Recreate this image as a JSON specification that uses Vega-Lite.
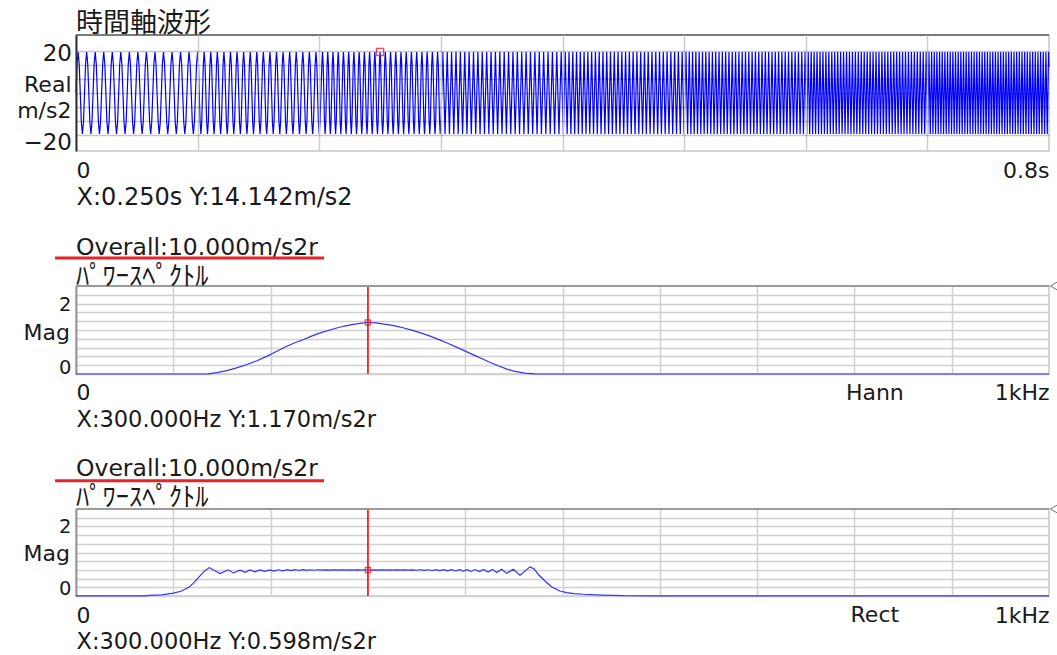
{
"$schema": "https://vega.github.io/schema/vega-lite/v6.json",
"background": "#ffffff",
"padding": {"left": 15, "top": 9, "right": 0, "bottom": 0},
"bounds": "flush",
"spacing": 135,
"config": {
 "view": {"stroke": "#c8c8c8", "strokeWidth": 1.5},
 "axis": {"ticks": false, "tickSize": 0, "tickCount": 100, "domain": false, "labelFont": "DejaVu Sans", "titleFont": "DejaVu Sans", "labelColor": "#1a1a1a", "titleColor": "#1a1a1a", "titleFontWeight": "normal", "labelFontSize": 22, "titleFontSize": 22, "gridColor": "#d0d0d0", "gridWidth": 1.5, "labelOverlap": false, "labelBound": false}
},
"datasets": {
"wave": [{"t":0,"v":0},
{"t":0.87,"v":10},{"t":1.75,"v":14.14},{"t":2.63,"v":10},{"t":4.38,"v":-10},{"t":5.26,"v":-14.14},{"t":6.14,"v":-10},{"t":7.89,"v":10},{"t":8.77,"v":14.14},{"t":9.65,"v":10},{"t":11.4,"v":-10},{"t":12.28,"v":-14.14},{"t":13.16,"v":-10},{"t":14.91,"v":10},{"t":15.79,"v":14.14},{"t":16.67,"v":10},{"t":18.42,"v":-10},{"t":19.3,"v":-14.14},{"t":20.18,"v":-10},{"t":21.93,"v":10},{"t":22.81,"v":14.14},{"t":23.69,"v":10},{"t":25.44,"v":-10},{"t":26.32,"v":-14.14},{"t":27.2,"v":-10},{"t":28.94,"v":10},{"t":29.82,"v":14.14},{"t":30.7,"v":10},{"t":32.45,"v":-10},{"t":33.33,"v":-14.14},{"t":34.21,"v":-10},{"t":35.96,"v":10},{"t":36.84,"v":14.14},{"t":37.72,"v":10},{"t":39.47,"v":-10},{"t":40.35,"v":-14.14},{"t":41.23,"v":-10},{"t":42.98,"v":10},{"t":43.86,"v":14.14},{"t":44.74,"v":10},{"t":46.49,"v":-10},{"t":47.37,"v":-14.14},{"t":48.25,"v":-10},{"t":50,"v":10},{"t":50.88,"v":14.14},{"t":51.76,"v":10},{"t":53.51,"v":-10},{"t":54.39,"v":-14.14},{"t":55.27,"v":-10},{"t":57.01,"v":10},{"t":57.89,"v":14.14},{"t":58.77,"v":10},{"t":60.52,"v":-10},{"t":61.4,"v":-14.14},{"t":62.28,"v":-10},{"t":64.03,"v":10},{"t":64.91,"v":14.14},{"t":65.79,"v":10},{"t":67.54,"v":-10},{"t":68.42,"v":-14.14},{"t":69.3,"v":-10},{"t":71.05,"v":10},{"t":71.93,"v":14.14},{"t":72.81,"v":10},{"t":74.56,"v":-10},{"t":75.44,"v":-14.14},{"t":76.32,"v":-10},{"t":78.07,"v":10},{"t":78.95,"v":14.14},{"t":79.83,"v":10},{"t":81.58,"v":-10},{"t":82.46,"v":-14.14},{"t":83.34,"v":-10},{"t":85.08,"v":10},{"t":85.96,"v":14.14},{"t":86.84,"v":10},{"t":88.59,"v":-10},{"t":89.47,"v":-14.14},{"t":90.35,"v":-10},{"t":92.1,"v":10},{"t":92.98,"v":14.14},{"t":93.86,"v":10},{"t":95.61,"v":-10},{"t":96.49,"v":-14.14},{"t":97.37,"v":-10},{"t":99.12,"v":10},{"t":100,"v":14.14},{"t":100.68,"v":10},
{"t":102.02,"v":-10},{"t":102.7,"v":-14.14},{"t":103.38,"v":-10},{"t":104.72,"v":10},{"t":105.4,"v":14.14},{"t":106.08,"v":10},{"t":107.43,"v":-10},{"t":108.11,"v":-14.14},{"t":108.79,"v":-10},{"t":110.13,"v":10},{"t":110.81,"v":14.14},{"t":111.49,"v":10},{"t":112.83,"v":-10},{"t":113.51,"v":-14.14},{"t":114.19,"v":-10},{"t":115.53,"v":10},{"t":116.21,"v":14.14},{"t":116.89,"v":10},{"t":118.24,"v":-10},{"t":118.92,"v":-14.14},{"t":119.6,"v":-10},{"t":120.94,"v":10},{"t":121.62,"v":14.14},{"t":122.3,"v":10},{"t":123.64,"v":-10},{"t":124.32,"v":-14.14},{"t":125,"v":-10},{"t":126.34,"v":10},{"t":127.02,"v":14.14},{"t":127.7,"v":10},{"t":129.05,"v":-10},{"t":129.73,"v":-14.14},{"t":130.41,"v":-10},{"t":131.75,"v":10},{"t":132.43,"v":14.14},{"t":133.11,"v":10},{"t":134.45,"v":-10},{"t":135.13,"v":-14.14},{"t":135.81,"v":-10},{"t":137.15,"v":10},{"t":137.83,"v":14.14},{"t":138.51,"v":10},{"t":139.86,"v":-10},{"t":140.54,"v":-14.14},{"t":141.22,"v":-10},{"t":142.56,"v":10},{"t":143.24,"v":14.14},{"t":143.92,"v":10},{"t":145.26,"v":-10},{"t":145.94,"v":-14.14},{"t":146.62,"v":-10},{"t":147.96,"v":10},{"t":148.64,"v":14.14},{"t":149.32,"v":10},{"t":150.67,"v":-10},{"t":151.35,"v":-14.14},{"t":152.03,"v":-10},{"t":153.37,"v":10},{"t":154.05,"v":14.14},{"t":154.73,"v":10},{"t":156.07,"v":-10},{"t":156.75,"v":-14.14},{"t":157.43,"v":-10},{"t":158.77,"v":10},{"t":159.45,"v":14.14},{"t":160.13,"v":10},{"t":161.48,"v":-10},{"t":162.16,"v":-14.14},{"t":162.84,"v":-10},{"t":164.18,"v":10},{"t":164.86,"v":14.14},{"t":165.54,"v":10},{"t":166.88,"v":-10},{"t":167.56,"v":-14.14},{"t":168.24,"v":-10},{"t":169.58,"v":10},{"t":170.26,"v":14.14},{"t":170.94,"v":10},{"t":172.28,"v":-10},{"t":172.96,"v":-14.14},{"t":173.64,"v":-10},{"t":174.99,"v":10},{"t":175.67,"v":14.14},{"t":176.35,"v":10},{"t":177.69,"v":-10},{"t":178.37,"v":-14.14},{"t":179.05,"v":-10},{"t":180.39,"v":10},{"t":181.07,"v":14.14},{"t":181.75,"v":10},{"t":183.09,"v":-10},{"t":183.77,"v":-14.14},{"t":184.45,"v":-10},{"t":185.8,"v":10},{"t":186.48,"v":14.14},{"t":187.16,"v":10},{"t":188.5,"v":-10},{"t":189.18,"v":-14.14},{"t":189.86,"v":-10},{"t":191.2,"v":10},{"t":191.88,"v":14.14},{"t":192.56,"v":10},{"t":193.9,"v":-10},{"t":194.58,"v":-14.14},{"t":195.26,"v":-10},{"t":196.61,"v":10},{"t":197.29,"v":14.14},{"t":197.97,"v":10},{"t":199.31,"v":-10},{"t":199.99,"v":-14.14},{"t":200.67,"v":-10},
{"t":202.15,"v":10},{"t":202.69,"v":14.14},{"t":203.23,"v":10},{"t":204.3,"v":-10},{"t":204.84,"v":-14.14},{"t":205.38,"v":-10},{"t":206.45,"v":10},{"t":206.99,"v":14.14},{"t":207.53,"v":10},{"t":208.6,"v":-10},{"t":209.14,"v":-14.14},{"t":209.68,"v":-10},{"t":210.75,"v":10},{"t":211.29,"v":14.14},{"t":211.83,"v":10},{"t":212.9,"v":-10},{"t":213.44,"v":-14.14},{"t":213.98,"v":-10},{"t":215.05,"v":10},{"t":215.59,"v":14.14},{"t":216.13,"v":10},{"t":217.21,"v":-10},{"t":217.75,"v":-14.14},{"t":218.29,"v":-10},{"t":219.36,"v":10},{"t":219.9,"v":14.14},{"t":220.44,"v":10},{"t":221.51,"v":-10},{"t":222.05,"v":-14.14},{"t":222.59,"v":-10},{"t":223.66,"v":10},{"t":224.2,"v":14.14},{"t":224.74,"v":10},{"t":225.81,"v":-10},{"t":226.35,"v":-14.14},{"t":226.89,"v":-10},{"t":227.96,"v":10},{"t":228.5,"v":14.14},{"t":229.04,"v":10},{"t":230.11,"v":-10},{"t":230.65,"v":-14.14},{"t":231.19,"v":-10},{"t":232.26,"v":10},{"t":232.8,"v":14.14},{"t":233.34,"v":10},{"t":234.41,"v":-10},{"t":234.95,"v":-14.14},{"t":235.49,"v":-10},{"t":236.56,"v":10},{"t":237.1,"v":14.14},{"t":237.64,"v":10},{"t":238.71,"v":-10},{"t":239.25,"v":-14.14},{"t":239.79,"v":-10},{"t":240.86,"v":10},{"t":241.4,"v":14.14},{"t":241.94,"v":10},{"t":243.01,"v":-10},{"t":243.55,"v":-14.14},{"t":244.09,"v":-10},{"t":245.16,"v":10},{"t":245.7,"v":14.14},{"t":246.24,"v":10},{"t":247.31,"v":-10},{"t":247.85,"v":-14.14},{"t":248.39,"v":-10},{"t":249.46,"v":10},{"t":250,"v":14.14},{"t":250.54,"v":10},{"t":251.61,"v":-10},{"t":252.15,"v":-14.14},{"t":252.69,"v":-10},{"t":253.77,"v":10},{"t":254.31,"v":14.14},{"t":254.85,"v":10},{"t":255.92,"v":-10},{"t":256.46,"v":-14.14},{"t":257,"v":-10},{"t":258.07,"v":10},{"t":258.61,"v":14.14},{"t":259.15,"v":10},{"t":260.22,"v":-10},{"t":260.76,"v":-14.14},{"t":261.3,"v":-10},{"t":262.37,"v":10},{"t":262.91,"v":14.14},{"t":263.45,"v":10},{"t":264.52,"v":-10},{"t":265.06,"v":-14.14},{"t":265.6,"v":-10},{"t":266.67,"v":10},{"t":267.21,"v":14.14},{"t":267.75,"v":10},{"t":268.82,"v":-10},{"t":269.36,"v":-14.14},{"t":269.9,"v":-10},{"t":270.97,"v":10},{"t":271.51,"v":14.14},{"t":272.05,"v":10},{"t":273.12,"v":-10},{"t":273.66,"v":-14.14},{"t":274.2,"v":-10},{"t":275.27,"v":10},{"t":275.81,"v":14.14},{"t":276.35,"v":10},{"t":277.42,"v":-10},{"t":277.96,"v":-14.14},{"t":278.5,"v":-10},{"t":279.57,"v":10},{"t":280.11,"v":14.14},{"t":280.65,"v":10},{"t":281.72,"v":-10},{"t":282.26,"v":-14.14},{"t":282.8,"v":-10},{"t":283.87,"v":10},{"t":284.41,"v":14.14},{"t":284.95,"v":10},{"t":286.02,"v":-10},{"t":286.56,"v":-14.14},{"t":287.1,"v":-10},{"t":288.17,"v":10},{"t":288.71,"v":14.14},{"t":289.25,"v":10},{"t":290.32,"v":-10},{"t":290.86,"v":-14.14},{"t":291.4,"v":-10},{"t":292.47,"v":10},{"t":293.01,"v":14.14},{"t":293.55,"v":10},{"t":294.63,"v":-10},{"t":295.17,"v":-14.14},{"t":295.71,"v":-10},{"t":296.78,"v":10},{"t":297.32,"v":14.14},{"t":297.86,"v":10},{"t":298.93,"v":-10},{"t":299.47,"v":-14.14},{"t":300.01,"v":-10},
{"t":301.61,"v":14.14},{"t":303.41,"v":-14.14},{"t":305.21,"v":14.14},{"t":307.02,"v":-14.14},{"t":308.82,"v":14.14},{"t":310.62,"v":-14.14},{"t":312.42,"v":14.14},{"t":314.22,"v":-14.14},{"t":316.02,"v":14.14},{"t":317.83,"v":-14.14},{"t":319.63,"v":14.14},{"t":321.43,"v":-14.14},{"t":323.23,"v":14.14},{"t":325.03,"v":-14.14},{"t":326.84,"v":14.14},{"t":328.64,"v":-14.14},{"t":330.44,"v":14.14},{"t":332.24,"v":-14.14},{"t":334.04,"v":14.14},{"t":335.84,"v":-14.14},{"t":337.65,"v":14.14},{"t":339.45,"v":-14.14},{"t":341.25,"v":14.14},{"t":343.05,"v":-14.14},{"t":344.85,"v":14.14},{"t":346.66,"v":-14.14},{"t":348.46,"v":14.14},{"t":350.26,"v":-14.14},{"t":352.06,"v":14.14},{"t":353.86,"v":-14.14},{"t":355.66,"v":14.14},{"t":357.47,"v":-14.14},{"t":359.27,"v":14.14},{"t":361.07,"v":-14.14},{"t":362.87,"v":14.14},{"t":364.67,"v":-14.14},{"t":366.47,"v":14.14},{"t":368.28,"v":-14.14},{"t":370.08,"v":14.14},{"t":371.88,"v":-14.14},{"t":373.68,"v":14.14},{"t":375.48,"v":-14.14},{"t":377.29,"v":14.14},{"t":379.09,"v":-14.14},{"t":380.89,"v":14.14},{"t":382.69,"v":-14.14},{"t":384.49,"v":14.14},{"t":386.29,"v":-14.14},{"t":388.1,"v":14.14},{"t":389.9,"v":-14.14},{"t":391.7,"v":14.14},{"t":393.5,"v":-14.14},{"t":395.3,"v":14.14},{"t":397.11,"v":-14.14},{"t":398.91,"v":14.14},
{"t":400.71,"v":-14.14},{"t":402.26,"v":14.14},{"t":403.81,"v":-14.14},{"t":405.36,"v":14.14},{"t":406.91,"v":-14.14},{"t":408.46,"v":14.14},{"t":410.01,"v":-14.14},{"t":411.56,"v":14.14},{"t":413.11,"v":-14.14},{"t":414.66,"v":14.14},{"t":416.21,"v":-14.14},{"t":417.76,"v":14.14},{"t":419.31,"v":-14.14},{"t":420.87,"v":14.14},{"t":422.42,"v":-14.14},{"t":423.97,"v":14.14},{"t":425.52,"v":-14.14},{"t":427.07,"v":14.14},{"t":428.62,"v":-14.14},{"t":430.17,"v":14.14},{"t":431.72,"v":-14.14},{"t":433.27,"v":14.14},{"t":434.82,"v":-14.14},{"t":436.37,"v":14.14},{"t":437.92,"v":-14.14},{"t":439.47,"v":14.14},{"t":441.02,"v":-14.14},{"t":442.57,"v":14.14},{"t":444.12,"v":-14.14},{"t":445.67,"v":14.14},{"t":447.22,"v":-14.14},{"t":448.77,"v":14.14},{"t":450.32,"v":-14.14},{"t":451.87,"v":14.14},{"t":453.42,"v":-14.14},{"t":454.97,"v":14.14},{"t":456.52,"v":-14.14},{"t":458.07,"v":14.14},{"t":459.63,"v":-14.14},{"t":461.18,"v":14.14},{"t":462.73,"v":-14.14},{"t":464.28,"v":14.14},{"t":465.83,"v":-14.14},{"t":467.38,"v":14.14},{"t":468.93,"v":-14.14},{"t":470.48,"v":14.14},{"t":472.03,"v":-14.14},{"t":473.58,"v":14.14},{"t":475.13,"v":-14.14},{"t":476.68,"v":14.14},{"t":478.23,"v":-14.14},{"t":479.78,"v":14.14},{"t":481.33,"v":-14.14},{"t":482.88,"v":14.14},{"t":484.43,"v":-14.14},{"t":485.98,"v":14.14},{"t":487.53,"v":-14.14},{"t":489.08,"v":14.14},{"t":490.63,"v":-14.14},{"t":492.18,"v":14.14},{"t":493.73,"v":-14.14},{"t":495.28,"v":14.14},{"t":496.84,"v":-14.14},{"t":498.39,"v":14.14},{"t":499.94,"v":-14.14},
{"t":501.49,"v":14.14},{"t":502.85,"v":-14.14},{"t":504.21,"v":14.14},{"t":505.57,"v":-14.14},{"t":506.93,"v":14.14},{"t":508.29,"v":-14.14},{"t":509.65,"v":14.14},{"t":511.01,"v":-14.14},{"t":512.37,"v":14.14},{"t":513.73,"v":-14.14},{"t":515.1,"v":14.14},{"t":516.46,"v":-14.14},{"t":517.82,"v":14.14},{"t":519.18,"v":-14.14},{"t":520.54,"v":14.14},{"t":521.9,"v":-14.14},{"t":523.26,"v":14.14},{"t":524.62,"v":-14.14},{"t":525.98,"v":14.14},{"t":527.34,"v":-14.14},{"t":528.7,"v":14.14},{"t":530.06,"v":-14.14},{"t":531.42,"v":14.14},{"t":532.78,"v":-14.14},{"t":534.14,"v":14.14},{"t":535.5,"v":-14.14},{"t":536.86,"v":14.14},{"t":538.22,"v":-14.14},{"t":539.58,"v":14.14},{"t":540.94,"v":-14.14},{"t":542.3,"v":14.14},{"t":543.67,"v":-14.14},{"t":545.03,"v":14.14},{"t":546.39,"v":-14.14},{"t":547.75,"v":14.14},{"t":549.11,"v":-14.14},{"t":550.47,"v":14.14},{"t":551.83,"v":-14.14},{"t":553.19,"v":14.14},{"t":554.55,"v":-14.14},{"t":555.91,"v":14.14},{"t":557.27,"v":-14.14},{"t":558.63,"v":14.14},{"t":559.99,"v":-14.14},{"t":561.35,"v":14.14},{"t":562.71,"v":-14.14},{"t":564.07,"v":14.14},{"t":565.43,"v":-14.14},{"t":566.79,"v":14.14},{"t":568.15,"v":-14.14},{"t":569.52,"v":14.14},{"t":570.88,"v":-14.14},{"t":572.24,"v":14.14},{"t":573.6,"v":-14.14},{"t":574.96,"v":14.14},{"t":576.32,"v":-14.14},{"t":577.68,"v":14.14},{"t":579.04,"v":-14.14},{"t":580.4,"v":14.14},{"t":581.76,"v":-14.14},{"t":583.12,"v":14.14},{"t":584.48,"v":-14.14},{"t":585.84,"v":14.14},{"t":587.2,"v":-14.14},{"t":588.56,"v":14.14},{"t":589.92,"v":-14.14},{"t":591.28,"v":14.14},{"t":592.64,"v":-14.14},{"t":594,"v":14.14},{"t":595.36,"v":-14.14},{"t":596.73,"v":14.14},{"t":598.09,"v":-14.14},{"t":599.45,"v":14.14},
{"t":600.81,"v":-14.14},{"t":602.02,"v":14.14},{"t":603.23,"v":-14.14},{"t":604.45,"v":14.14},{"t":605.66,"v":-14.14},{"t":606.87,"v":14.14},{"t":608.08,"v":-14.14},{"t":609.29,"v":14.14},{"t":610.51,"v":-14.14},{"t":611.72,"v":14.14},{"t":612.93,"v":-14.14},{"t":614.14,"v":14.14},{"t":615.36,"v":-14.14},{"t":616.57,"v":14.14},{"t":617.78,"v":-14.14},{"t":618.99,"v":14.14},{"t":620.2,"v":-14.14},{"t":621.42,"v":14.14},{"t":622.63,"v":-14.14},{"t":623.84,"v":14.14},{"t":625.05,"v":-14.14},{"t":626.26,"v":14.14},{"t":627.48,"v":-14.14},{"t":628.69,"v":14.14},{"t":629.9,"v":-14.14},{"t":631.11,"v":14.14},{"t":632.32,"v":-14.14},{"t":633.54,"v":14.14},{"t":634.75,"v":-14.14},{"t":635.96,"v":14.14},{"t":637.17,"v":-14.14},{"t":638.39,"v":14.14},{"t":639.6,"v":-14.14},{"t":640.81,"v":14.14},{"t":642.02,"v":-14.14},{"t":643.23,"v":14.14},{"t":644.45,"v":-14.14},{"t":645.66,"v":14.14},{"t":646.87,"v":-14.14},{"t":648.08,"v":14.14},{"t":649.29,"v":-14.14},{"t":650.51,"v":14.14},{"t":651.72,"v":-14.14},{"t":652.93,"v":14.14},{"t":654.14,"v":-14.14},{"t":655.35,"v":14.14},{"t":656.57,"v":-14.14},{"t":657.78,"v":14.14},{"t":658.99,"v":-14.14},{"t":660.2,"v":14.14},{"t":661.42,"v":-14.14},{"t":662.63,"v":14.14},{"t":663.84,"v":-14.14},{"t":665.05,"v":14.14},{"t":666.26,"v":-14.14},{"t":667.48,"v":14.14},{"t":668.69,"v":-14.14},{"t":669.9,"v":14.14},{"t":671.11,"v":-14.14},{"t":672.32,"v":14.14},{"t":673.54,"v":-14.14},{"t":674.75,"v":14.14},{"t":675.96,"v":-14.14},{"t":677.17,"v":14.14},{"t":678.38,"v":-14.14},{"t":679.6,"v":14.14},{"t":680.81,"v":-14.14},{"t":682.02,"v":14.14},{"t":683.23,"v":-14.14},{"t":684.45,"v":14.14},{"t":685.66,"v":-14.14},{"t":686.87,"v":14.14},{"t":688.08,"v":-14.14},{"t":689.29,"v":14.14},{"t":690.51,"v":-14.14},{"t":691.72,"v":14.14},{"t":692.93,"v":-14.14},{"t":694.14,"v":14.14},{"t":695.35,"v":-14.14},{"t":696.57,"v":14.14},{"t":697.78,"v":-14.14},{"t":698.99,"v":14.14},
{"t":700.2,"v":-14.14},{"t":701.29,"v":14.14},{"t":702.39,"v":-14.14},{"t":703.48,"v":14.14},{"t":704.57,"v":-14.14},{"t":705.66,"v":14.14},{"t":706.76,"v":-14.14},{"t":707.85,"v":14.14},{"t":708.94,"v":-14.14},{"t":710.04,"v":14.14},{"t":711.13,"v":-14.14},{"t":712.22,"v":14.14},{"t":713.31,"v":-14.14},{"t":714.41,"v":14.14},{"t":715.5,"v":-14.14},{"t":716.59,"v":14.14},{"t":717.69,"v":-14.14},{"t":718.78,"v":14.14},{"t":719.87,"v":-14.14},{"t":720.97,"v":14.14},{"t":722.06,"v":-14.14},{"t":723.15,"v":14.14},{"t":724.24,"v":-14.14},{"t":725.34,"v":14.14},{"t":726.43,"v":-14.14},{"t":727.52,"v":14.14},{"t":728.62,"v":-14.14},{"t":729.71,"v":14.14},{"t":730.8,"v":-14.14},{"t":731.89,"v":14.14},{"t":732.99,"v":-14.14},{"t":734.08,"v":14.14},{"t":735.17,"v":-14.14},{"t":736.27,"v":14.14},{"t":737.36,"v":-14.14},{"t":738.45,"v":14.14},{"t":739.54,"v":-14.14},{"t":740.64,"v":14.14},{"t":741.73,"v":-14.14},{"t":742.82,"v":14.14},{"t":743.92,"v":-14.14},{"t":745.01,"v":14.14},{"t":746.1,"v":-14.14},{"t":747.19,"v":14.14},{"t":748.29,"v":-14.14},{"t":749.38,"v":14.14},{"t":750.47,"v":-14.14},{"t":751.57,"v":14.14},{"t":752.66,"v":-14.14},{"t":753.75,"v":14.14},{"t":754.85,"v":-14.14},{"t":755.94,"v":14.14},{"t":757.03,"v":-14.14},{"t":758.12,"v":14.14},{"t":759.22,"v":-14.14},{"t":760.31,"v":14.14},{"t":761.4,"v":-14.14},{"t":762.5,"v":14.14},{"t":763.59,"v":-14.14},{"t":764.68,"v":14.14},{"t":765.77,"v":-14.14},{"t":766.87,"v":14.14},{"t":767.96,"v":-14.14},{"t":769.05,"v":14.14},{"t":770.15,"v":-14.14},{"t":771.24,"v":14.14},{"t":772.33,"v":-14.14},{"t":773.42,"v":14.14},{"t":774.52,"v":-14.14},{"t":775.61,"v":14.14},{"t":776.7,"v":-14.14},{"t":777.8,"v":14.14},{"t":778.89,"v":-14.14},{"t":779.98,"v":14.14},{"t":781.07,"v":-14.14},{"t":782.17,"v":14.14},{"t":783.26,"v":-14.14},{"t":784.35,"v":14.14},{"t":785.45,"v":-14.14},{"t":786.54,"v":14.14},{"t":787.63,"v":-14.14},{"t":788.73,"v":14.14},{"t":789.82,"v":-14.14},{"t":790.91,"v":14.14},{"t":792,"v":-14.14},{"t":793.1,"v":14.14},{"t":794.19,"v":-14.14},{"t":795.28,"v":14.14},{"t":796.38,"v":-14.14},{"t":797.47,"v":14.14},{"t":798.56,"v":-14.14},{"t":799.65,"v":14.14},{"t":800,"v":9}],
"hann": [{"f":0,"m":0},{"f":130,"m":0},{"f":136,"m":0.004},{"f":145,"m":0.03},{"f":155,"m":0.077},{"f":165,"m":0.14},{"f":175,"m":0.21},{"f":186,"m":0.3},{"f":196,"m":0.4},{"f":206,"m":0.51},{"f":216,"m":0.625},{"f":225,"m":0.71},{"f":234,"m":0.785},{"f":242,"m":0.86},{"f":251,"m":0.935},{"f":260,"m":0.995},{"f":268,"m":1.045},{"f":276,"m":1.09},{"f":285,"m":1.128},{"f":292,"m":1.152},{"f":300,"m":1.17},{"f":308,"m":1.16},{"f":315,"m":1.14},{"f":322,"m":1.115},{"f":329,"m":1.088},{"f":337,"m":1.045},{"f":346,"m":0.99},{"f":355,"m":0.93},{"f":364,"m":0.86},{"f":373,"m":0.78},{"f":382,"m":0.7},{"f":391,"m":0.61},{"f":400,"m":0.52},{"f":409,"m":0.43},{"f":418,"m":0.34},{"f":427,"m":0.25},{"f":435,"m":0.175},{"f":443,"m":0.11},{"f":450,"m":0.065},{"f":457,"m":0.035},{"f":464,"m":0.012},{"f":472,"m":0.002},{"f":480,"m":0},{"f":1000,"m":0}],
"rect": [{"f":0,"m":0.004},{"f":72,"m":0.005},{"f":75,"m":0.015},{"f":88,"m":0.028},{"f":100,"m":0.065},{"f":108,"m":0.11},{"f":116,"m":0.2},{"f":121,"m":0.3},{"f":127,"m":0.45},{"f":132,"m":0.57},{"f":137,"m":0.653},{"f":148,"m":0.515},{"f":156.5,"m":0.602},{"f":161.7,"m":0.53},{"f":168.5,"m":0.595},{"f":173.7,"m":0.545},{"f":178.8,"m":0.598},{"f":184,"m":0.555},{"f":189,"m":0.6},{"f":194,"m":0.565},{"f":199,"m":0.602},{"f":203.5,"m":0.572},{"f":208,"m":0.603},{"f":212.5,"m":0.578},{"f":217,"m":0.604},{"f":221,"m":0.583},{"f":225,"m":0.604},{"f":229,"m":0.587},{"f":233,"m":0.604},{"f":237,"m":0.59},{"f":241,"m":0.603},{"f":245,"m":0.592},{"f":249,"m":0.603},{"f":253,"m":0.594},{"f":257,"m":0.602},{"f":261,"m":0.595},{"f":265,"m":0.602},{"f":269,"m":0.596},{"f":273,"m":0.601},{"f":277,"m":0.596},{"f":281,"m":0.601},{"f":285,"m":0.597},{"f":289,"m":0.6},{"f":293,"m":0.597},{"f":297,"m":0.6},{"f":300,"m":0.598},{"f":303,"m":0.597},{"f":306,"m":0.6},{"f":310,"m":0.596},{"f":314,"m":0.6},{"f":318,"m":0.596},{"f":322,"m":0.601},{"f":326,"m":0.595},{"f":330,"m":0.601},{"f":334,"m":0.594},{"f":338,"m":0.602},{"f":342,"m":0.593},{"f":346,"m":0.602},{"f":350,"m":0.592},{"f":354,"m":0.603},{"f":358,"m":0.59},{"f":362,"m":0.603},{"f":366,"m":0.587},{"f":370,"m":0.604},{"f":374,"m":0.584},{"f":378,"m":0.604},{"f":382,"m":0.58},{"f":386,"m":0.605},{"f":390,"m":0.575},{"f":394,"m":0.606},{"f":398,"m":0.57},{"f":402,"m":0.607},{"f":406,"m":0.565},{"f":410,"m":0.608},{"f":414.5,"m":0.56},{"f":419,"m":0.61},{"f":423.5,"m":0.55},{"f":428,"m":0.612},{"f":432.5,"m":0.54},{"f":437.5,"m":0.616},{"f":442.7,"m":0.52},{"f":449.4,"m":0.616},{"f":456.3,"m":0.48},{"f":466.6,"m":0.67},{"f":471,"m":0.62},{"f":475,"m":0.5},{"f":482,"m":0.346},{"f":489,"m":0.208},{"f":497.4,"m":0.115},{"f":504.3,"m":0.077},{"f":512,"m":0.056},{"f":521.4,"m":0.04},{"f":540,"m":0.022},{"f":562.5,"m":0.008},{"f":600,"m":0.005},{"f":1000,"m":0.004}]
},
"vconcat": [
{
 "width": 973, "height": 116,
 "layer": [
  {"data": {"name": "wave"}, "mark": {"type": "line", "color": "#0000ff", "strokeWidth": 1.2},
   "encoding": {
    "x": {"field": "t", "type": "quantitative", "scale": {"domain": [0, 800], "nice": false, "zero": false},
     "axis": {"values": [0,100,200,300,400,500,600,700,800], "tickCount": 100, "grid": true,
      "gridColor": {"condition": {"test": "datum.value == 0 || datum.value == 800", "value": "transparent"}, "value": "#cdcdcd"},
      "labelExpr": "datum.value == 0 ? '0' : datum.value == 800 ? '0.8s' : ''",
      "labelFlush": true, "labelBaseline": "alphabetic", "labelPadding": 26.7,
      "title": "X:0.250s Y:14.142m/s2", "titleFontSize": 24, "titleAlign": "left", "titleAnchor": "start", "titleX": 0, "titleY": 53, "titleBaseline": "alphabetic", "zindex": 1}},
    "y": {"field": "v", "type": "quantitative", "scale": {"domain": [-20, 20], "nice": false, "zero": false},
     "axis": {"values": [-20,-14.4,-9.6,-4.8,0,4.8,9.6,14.4,20], "tickCount": 100, "grid": true,
      "gridColor": {"condition": {"test": "abs(datum.value) == 20", "value": "transparent"}, "value": "#000000"},
      "gridOpacity": 0.22, "gridWidth": 1.3,
      "labelExpr": "datum.value == 20 ? '20' : datum.value == -20 ? '−20' : ''",
      "labelFontSize": 23, "labelBaseline": "alphabetic",
      "labelOffset": {"condition": {"test": "datum.value == 20", "value": 25}, "value": -1.7},
      "labelPadding": 4.5,
      "domain": true, "domainColor": "#303030", "domainWidth": 2,
      "title": ["Real", "m/s2"], "titleAngle": 0, "titleAlign": "right", "titleBaseline": "alphabetic", "titleX": -5, "titleY": 56, "titleLineHeight": 26.7, "zindex": 1}}
   }},
  {"data": {"values": [{"t": 250, "v": 14.142}]}, "mark": {"type": "point", "shape": "square", "filled": false, "color": "#ff0000", "size": 50, "strokeWidth": 1.3},
   "encoding": {"x": {"field": "t", "type": "quantitative"}, "y": {"field": "v", "type": "quantitative"}}},
  {"data": {"values": [{}]}, "mark": {"type": "rule", "color": "#7a7a7a", "strokeWidth": 2}, "encoding": {"y": {"datum": 20}}},
  {"data": {"values": [{}]}, "mark": {"type": "text", "text": "時間軸波形", "align": "left", "baseline": "alphabetic", "font": "Noto Sans CJK JP", "fontSize": 27, "color": "#1a1a1a"},
   "encoding": {"x": {"datum": 0}, "y": {"datum": 20.93}}}
 ]
},
{
 "width": 973, "height": 88,
 "layer": [
  {"data": {"name": "hann"}, "mark": {"type": "line", "color": "#3333ff", "strokeWidth": 1.2},
   "encoding": {
    "x": {"field": "f", "type": "quantitative", "scale": {"domain": [0, 1000], "nice": false},
     "axis": {"values": [0,100,200,300,400,500,600,700,800,900,1000], "tickCount": 100, "grid": true,
      "gridColor": {"condition": {"test": "datum.value == 0 || datum.value == 1000", "value": "transparent"}, "value": "#d0d0d0"},
      "labelExpr": "datum.value == 0 ? '0' : datum.value == 1000 ? '1kHz' : ''",
      "labelFlush": true, "labelBaseline": "alphabetic", "labelPadding": 25.7,
      "title": "X:300.000Hz Y:1.170m/s2r", "titleFontSize": 22.5, "titleAlign": "left", "titleAnchor": "start", "titleX": 0, "titleY": 52.5, "titleBaseline": "alphabetic"}},
    "y": {"field": "m", "type": "quantitative", "scale": {"domain": [0, 2], "nice": false},
     "axis": {"values": [0,0.2,0.4,0.6,0.8,1,1.2,1.4,1.6,1.8,2], "tickCount": 100, "grid": true,
      "gridColor": {"condition": {"test": "datum.value == 2", "value": "transparent"}, "value": "#d0d0d0"},
      "labelExpr": "datum.value == 2 ? '2' : datum.value == 0 ? '0' : ''",
      "labelFontSize": 19.5, "labelBaseline": "alphabetic",
      "labelOffset": {"condition": {"test": "datum.value == 2", "value": 24.3}, "value": -1},
      "labelPadding": 5,
      "domain": true, "domainColor": "#969696", "domainWidth": 2,
      "title": "Mag", "titleAngle": 0, "titleAlign": "right", "titleBaseline": "alphabetic", "titleX": -6.5, "titleY": 53.5}}
   }},
  {"data": {"values": [{}]}, "mark": {"type": "rule", "color": "#ff0000", "strokeWidth": 1.5}, "encoding": {"x": {"datum": 300}}},
  {"data": {"values": [{"f": 300, "m": 1.17}]}, "mark": {"type": "point", "shape": "square", "filled": false, "color": "#ff0000", "size": 28, "strokeWidth": 1.2},
   "encoding": {"x": {"field": "f", "type": "quantitative"}, "y": {"field": "m", "type": "quantitative"}}},
  {"data": {"values": [{}]}, "mark": {"type": "rule", "color": "#9a9a9a", "strokeWidth": 2}, "encoding": {"y": {"datum": 2}}},
  {"data": {"values": [{}]}, "mark": {"type": "point", "shape": "triangle-left", "filled": true, "fill": "#ffffff", "stroke": "#333333", "strokeWidth": 1, "size": 70, "xOffset": 5},
   "encoding": {"x": {"datum": 1000}, "y": {"datum": 2}}},
  {"data": {"values": [{}]}, "mark": {"type": "text", "text": "Overall:10.000m/s2r", "align": "left", "baseline": "alphabetic", "font": "DejaVu Sans", "fontSize": 23.5, "color": "#1a1a1a"},
   "encoding": {"x": {"datum": 0}, "y": {"datum": 2.705}}},
  {"data": {"values": [{}]}, "mark": {"type": "rule", "color": "#e8232a", "strokeWidth": 3},
   "encoding": {"x": {"datum": -21.5}, "x2": {"datum": 255}, "y": {"datum": 2.636}}},
  {"data": {"values": [{}]}, "mark": {"type": "text", "text": "ﾊﾟﾜｰｽﾍﾟｸﾄﾙ", "align": "left", "baseline": "alphabetic", "font": "Noto Sans CJK JP", "fontSize": 26.5, "color": "#1a1a1a"},
   "encoding": {"x": {"datum": 0}, "y": {"datum": 2.023}}},
  {"data": {"values": [{}]}, "mark": {"type": "text", "text": "Hann", "align": "center", "baseline": "alphabetic", "font": "DejaVu Sans", "fontSize": 22, "color": "#1a1a1a"},
   "encoding": {"x": {"datum": 821}, "y": {"datum": -0.584}}}
 ]
},
{
 "width": 973, "height": 87,
 "layer": [
  {"data": {"name": "rect"}, "mark": {"type": "line", "color": "#3333ff", "strokeWidth": 1.2},
   "encoding": {
    "x": {"field": "f", "type": "quantitative", "scale": {"domain": [0, 1000], "nice": false},
     "axis": {"values": [0,100,200,300,400,500,600,700,800,900,1000], "tickCount": 100, "grid": true,
      "gridColor": {"condition": {"test": "datum.value == 0 || datum.value == 1000", "value": "transparent"}, "value": "#d0d0d0"},
      "labelExpr": "datum.value == 0 ? '0' : datum.value == 1000 ? '1kHz' : ''",
      "labelFlush": true, "labelBaseline": "alphabetic", "labelPadding": 26.5,
      "title": "X:300.000Hz Y:0.598m/s2r", "titleFontSize": 22.5, "titleAlign": "left", "titleAnchor": "start", "titleX": 0, "titleY": 52, "titleBaseline": "alphabetic"}},
    "y": {"field": "m", "type": "quantitative", "scale": {"domain": [0, 2], "nice": false},
     "axis": {"values": [0,0.2,0.4,0.6,0.8,1,1.2,1.4,1.6,1.8,2], "tickCount": 100, "grid": true,
      "gridColor": {"condition": {"test": "datum.value == 2", "value": "transparent"}, "value": "#d0d0d0"},
      "labelExpr": "datum.value == 2 ? '2' : datum.value == 0 ? '0' : ''",
      "labelFontSize": 19.5, "labelBaseline": "alphabetic",
      "labelOffset": {"condition": {"test": "datum.value == 2", "value": 23.4}, "value": -1.7},
      "labelPadding": 5,
      "domain": true, "domainColor": "#969696", "domainWidth": 2,
      "title": "Mag", "titleAngle": 0, "titleAlign": "right", "titleBaseline": "alphabetic", "titleX": -6.5, "titleY": 51}}
   }},
  {"data": {"values": [{}]}, "mark": {"type": "rule", "color": "#ff0000", "strokeWidth": 1.5}, "encoding": {"x": {"datum": 300}}},
  {"data": {"values": [{"f": 300, "m": 0.598}]}, "mark": {"type": "point", "shape": "square", "filled": false, "color": "#ff0000", "size": 28, "strokeWidth": 1.2},
   "encoding": {"x": {"field": "f", "type": "quantitative"}, "y": {"field": "m", "type": "quantitative"}}},
  {"data": {"values": [{}]}, "mark": {"type": "rule", "color": "#9a9a9a", "strokeWidth": 2}, "encoding": {"y": {"datum": 2}}},
  {"data": {"values": [{}]}, "mark": {"type": "point", "shape": "triangle-left", "filled": true, "fill": "#ffffff", "stroke": "#333333", "strokeWidth": 1, "size": 70, "xOffset": 5},
   "encoding": {"x": {"datum": 1000}, "y": {"datum": 2}}},
  {"data": {"values": [{}]}, "mark": {"type": "text", "text": "Overall:10.000m/s2r", "align": "left", "baseline": "alphabetic", "font": "DejaVu Sans", "fontSize": 23.5, "color": "#1a1a1a"},
   "encoding": {"x": {"datum": 0}, "y": {"datum": 2.76}}},
  {"data": {"values": [{}]}, "mark": {"type": "rule", "color": "#e8232a", "strokeWidth": 3},
   "encoding": {"x": {"datum": -21.5}, "x2": {"datum": 255}, "y": {"datum": 2.651}}},
  {"data": {"values": [{}]}, "mark": {"type": "text", "text": "ﾊﾟﾜｰｽﾍﾟｸﾄﾙ", "align": "left", "baseline": "alphabetic", "font": "Noto Sans CJK JP", "fontSize": 26.5, "color": "#1a1a1a"},
   "encoding": {"x": {"datum": 0}, "y": {"datum": 2.076}}},
  {"data": {"values": [{}]}, "mark": {"type": "text", "text": "Rect", "align": "center", "baseline": "alphabetic", "font": "DejaVu Sans", "fontSize": 22, "color": "#1a1a1a"},
   "encoding": {"x": {"datum": 821}, "y": {"datum": -0.609}}}
 ]
}
]
}
